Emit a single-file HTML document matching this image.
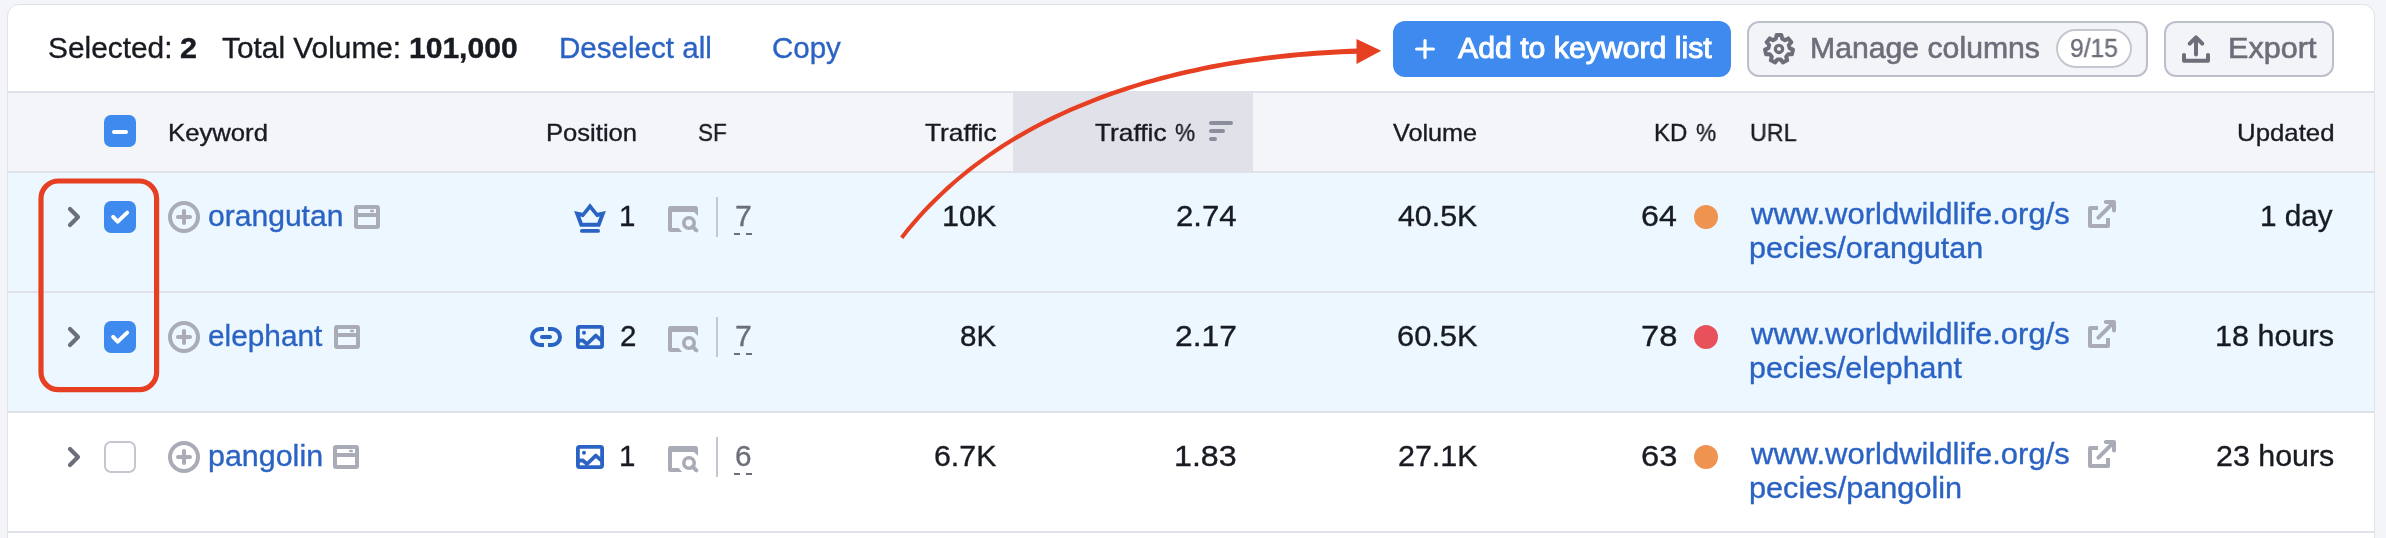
<!DOCTYPE html>
<html><head><meta charset="utf-8"><title>Keywords</title>
<style>
html,body{margin:0;padding:0;}
body{width:2386px;height:538px;overflow:hidden;background:#f4f5f9;position:relative;font-family:"Liberation Sans",sans-serif;}
.abs,.t,.ic{position:absolute;}
.t{white-space:pre;transform-origin:0 0;will-change:transform;-webkit-font-smoothing:antialiased;}
.card{left:7px;top:4px;width:2366px;height:560px;border:1px solid #e0e1e9;border-radius:12px;background:#fff;}
.hline{left:8px;width:2366px;height:2px;background:#e0e1e9;}
.cb{width:32px;height:32px;border-radius:7px;background:#3e8aee;}
.cbu{width:28px;height:28px;border-radius:7px;background:#fff;border:2px solid #c4c7cf;}
.btn{top:21px;height:52px;border:2px solid #bdc0ca;border-radius:12px;background:#f3f4f7;}
.dot{width:24px;height:24px;border-radius:50%;left:1694px;}
.div{left:716px;width:2px;height:40px;background:#c4c7cf;}
</style></head><body>
<div class="abs card"></div>
<!-- header -->
<div class="abs" style="left:8px;top:93px;width:2366px;height:78px;background:#f4f5f9"></div>
<div class="abs hline" style="top:91px"></div>
<div class="abs" style="left:1013px;top:91px;width:240px;height:82px;background:#e0e1e9"></div>
<div class="abs hline" style="top:171px"></div>
<!-- rows -->
<div class="abs" style="left:8px;top:173px;width:2366px;height:118px;background:#ecf7ff"></div>
<div class="abs hline" style="top:291px"></div>
<div class="abs" style="left:8px;top:293px;width:2366px;height:118px;background:#ecf7ff"></div>
<div class="abs hline" style="top:411px"></div>
<div class="abs hline" style="top:531px"></div>
<!-- toolbar buttons -->
<div class="abs" style="left:1393px;top:21px;width:338px;height:56px;border-radius:12px;background:#3e8aee"></div>
<svg class="ic" style="left:1413px;top:37px" width="24" height="24" viewBox="0 0 24 24"><path d="M12 3.6v16.8M3.6 12h16.8" stroke="#fff" stroke-width="3.2" stroke-linecap="round" fill="none"/></svg>
<div class="abs btn" style="left:1747px;width:397px;"></div>
<div class="abs" style="left:2056px;top:29px;width:72px;height:35px;border:2px solid #c4c7cf;border-radius:20px;background:#fff"></div>
<div class="abs btn" style="left:2164px;width:166px;"></div>
<svg class="ic" style="left:1760px;top:30px" width="38" height="38" viewBox="1760 30 38 38" ><path d="M1775.90 38.76 L1776.57 35.11 L1781.43 35.11 L1782.10 38.76 L1784.99 40.16 L1788.26 38.40 L1791.30 42.20 L1788.86 45.00 L1789.57 48.13 L1792.98 49.60 L1791.90 54.34 L1788.19 54.18 L1786.19 56.69 L1787.17 60.27 L1782.79 62.38 L1780.61 59.38 L1777.39 59.38 L1775.21 62.38 L1770.83 60.27 L1771.81 56.69 L1769.81 54.18 L1766.10 54.34 L1765.02 49.60 L1768.43 48.13 L1769.14 45.00 L1766.70 42.20 L1769.74 38.40 L1773.01 40.16Z" fill="none" stroke="#6c6e79" stroke-width="4" stroke-linejoin="round"/><circle cx="1779" cy="48.9" r="3.6" fill="none" stroke="#6c6e79" stroke-width="3.3"/></svg>
<svg class="ic" style="left:2180px;top:32px" width="32" height="34" viewBox="2180 32 32 34" ><path d="M2184 55V60.8H2208V55M2196 38V54.5M2189.7 43.7L2196 37.4L2202.3 43.7" fill="none" stroke="#6c6e79" stroke-width="4" stroke-linecap="round" stroke-linejoin="round"/></svg>
<svg class="ic" style="left:1208px;top:120px" width="26" height="22" viewBox="1208 120 26 22" ><rect x="1209" y="121" width="24" height="4" rx="2" fill="#8a8e9b"/><rect x="1209" y="129" width="16" height="4" rx="2" fill="#8a8e9b"/><rect x="1209" y="137" width="8" height="4" rx="2" fill="#8a8e9b"/></svg>
<div class="abs cb" style="left:104px;top:115px"></div><div class="abs" style="left:112px;top:130px;width:16px;height:4px;border-radius:2px;background:#fff"></div>
<svg class="ic" style="left:64px;top:204px" width="20" height="26" viewBox="64 204 20 26" ><path d="M70 208.9L78 217L70 225.1" fill="none" stroke="#6c6e79" stroke-width="4.2" stroke-linecap="round" stroke-linejoin="round"/></svg>
<div class="abs cb" style="left:104px;top:201px"></div>
<svg class="ic" style="left:104px;top:201px" width="32" height="32" viewBox="104 201 32 32" ><path d="M113.1 216.9L117.7 221.6L127.2 212.6" fill="none" stroke="#fff" stroke-width="3.9" stroke-linecap="round" stroke-linejoin="round"/></svg>
<svg class="ic" style="left:166px;top:199px" width="36" height="36" viewBox="166 199 36 36" ><circle cx="184" cy="217" r="14" fill="none" stroke="#a9abb6" stroke-width="4"/><path d="M178 217h12M184 211v12" stroke="#a9abb6" stroke-width="4" stroke-linecap="round"/></svg>
<svg class="ic" style="left:354px;top:205px" width="26" height="24" viewBox="354 205 26 24" ><path fill-rule="evenodd" fill="#a9abb6" d="M357 205h20a3 3 0 0 1 3 3v18a3 3 0 0 1-3 3h-20a3 3 0 0 1-3-3v-18a3 3 0 0 1 3-3zM358 209v4h18v-4zM358 217v8h18v-8z"/><rect x="370" y="209.7" width="4" height="2.6" rx="1.2" fill="#a9abb6"/></svg>
<svg class="ic" style="left:572px;top:201px" width="36" height="34" viewBox="572 201 36 34" ><path fill-rule="evenodd" fill="#2b63c4" d="M590 203.2L597.5 212.8L605.9 211.1L600 226.7L580 226.7L574.1 211.1L582.5 212.8Z M590 209.2L596.6 217.3L599.6 216.5L597.3 222.8L582.7 222.8L580.4 216.5L583.4 217.3Z"/><rect x="580" y="229" width="20" height="3.8" rx="1.9" fill="#2b63c4"/></svg>
<svg class="ic" style="left:668px;top:206px" width="31" height="27" viewBox="668 206 31 27" ><path fill="#a9abb6" d="M670.5 206h25a2.5 2.5 0 0 1 2.5 2.5V216L694 212H672V228h6.8L682 232H670.5a2.5 2.5 0 0 1-2.5-2.5v-21a2.5 2.5 0 0 1 2.5-2.5z"/><circle cx="689" cy="223" r="5.2" fill="none" stroke="#a9abb6" stroke-width="3.6"/><path d="M692.6 226.6L696.3 230.3" stroke="#a9abb6" stroke-width="4" stroke-linecap="round"/></svg>
<div class="abs div" style="top:197px"></div>
<div class="abs" style="left:734px;top:233px;width:6px;height:2px;background:#6c6e79"></div><div class="abs" style="left:746px;top:233px;width:6px;height:2px;background:#6c6e79"></div>
<div class="abs dot" style="top:205px;background:#ef9351"></div>
<svg class="ic" style="left:2086px;top:198px" width="32" height="32" viewBox="2086 198 32 32" ><path d="M2098 208H2090V226H2108V218" fill="none" stroke="#a9abb6" stroke-width="4" stroke-linejoin="round"/><path d="M2098.4 217.6L2113.5 202.5M2105.8 202H2114V210.5" fill="none" stroke="#a9abb6" stroke-width="4" stroke-linecap="round" stroke-linejoin="round"/></svg>
<svg class="ic" style="left:64px;top:324px" width="20" height="26" viewBox="64 324 20 26" ><path d="M70 328.9L78 337L70 345.1" fill="none" stroke="#6c6e79" stroke-width="4.2" stroke-linecap="round" stroke-linejoin="round"/></svg>
<div class="abs cb" style="left:104px;top:321px"></div>
<svg class="ic" style="left:104px;top:321px" width="32" height="32" viewBox="104 321 32 32" ><path d="M113.1 336.9L117.7 341.6L127.2 332.6" fill="none" stroke="#fff" stroke-width="3.9" stroke-linecap="round" stroke-linejoin="round"/></svg>
<svg class="ic" style="left:166px;top:319px" width="36" height="36" viewBox="166 319 36 36" ><circle cx="184" cy="337" r="14" fill="none" stroke="#a9abb6" stroke-width="4"/><path d="M178 337h12M184 331v12" stroke="#a9abb6" stroke-width="4" stroke-linecap="round"/></svg>
<svg class="ic" style="left:334px;top:325px" width="26" height="24" viewBox="334 325 26 24" ><path fill-rule="evenodd" fill="#a9abb6" d="M337 325h20a3 3 0 0 1 3 3v18a3 3 0 0 1-3 3h-20a3 3 0 0 1-3-3v-18a3 3 0 0 1 3-3zM338 329v4h18v-4zM338 337v8h18v-8z"/><rect x="350" y="329.7" width="4" height="2.6" rx="1.2" fill="#a9abb6"/></svg>
<svg class="ic" style="left:528px;top:325px" width="36" height="24" viewBox="528 325 36 24" ><path d="M544 329h-4a8 8 0 0 0 0 16h4M548 329h4a8 8 0 0 1 0 16h-4" fill="none" stroke="#2b63c4" stroke-width="4"/><path d="M542 337h8" stroke="#2b63c4" stroke-width="4" stroke-linecap="round"/></svg>
<svg class="ic" style="left:576px;top:325px" width="28" height="24" viewBox="576 325 28 24" ><rect x="577.9" y="326.9" width="24.2" height="20.2" rx="1.6" fill="none" stroke="#2b63c4" stroke-width="3.8"/><circle cx="584" cy="332.8" r="2" fill="#2b63c4"/><path d="M577 341 L582.6 340.3 L587 344 L595.8 335.6 L603 341.8" fill="none" stroke="#2b63c4" stroke-width="3.8" stroke-linejoin="round"/></svg>
<svg class="ic" style="left:668px;top:326px" width="31" height="27" viewBox="668 326 31 27" ><path fill="#a9abb6" d="M670.5 326h25a2.5 2.5 0 0 1 2.5 2.5V336L694 332H672V348h6.8L682 352H670.5a2.5 2.5 0 0 1-2.5-2.5v-21a2.5 2.5 0 0 1 2.5-2.5z"/><circle cx="689" cy="343" r="5.2" fill="none" stroke="#a9abb6" stroke-width="3.6"/><path d="M692.6 346.6L696.3 350.3" stroke="#a9abb6" stroke-width="4" stroke-linecap="round"/></svg>
<div class="abs div" style="top:317px"></div>
<div class="abs" style="left:734px;top:353px;width:6px;height:2px;background:#6c6e79"></div><div class="abs" style="left:746px;top:353px;width:6px;height:2px;background:#6c6e79"></div>
<div class="abs dot" style="top:325px;background:#e8515a"></div>
<svg class="ic" style="left:2086px;top:318px" width="32" height="32" viewBox="2086 318 32 32" ><path d="M2098 328H2090V346H2108V338" fill="none" stroke="#a9abb6" stroke-width="4" stroke-linejoin="round"/><path d="M2098.4 337.6L2113.5 322.5M2105.8 322H2114V330.5" fill="none" stroke="#a9abb6" stroke-width="4" stroke-linecap="round" stroke-linejoin="round"/></svg>
<svg class="ic" style="left:64px;top:444px" width="20" height="26" viewBox="64 444 20 26" ><path d="M70 448.9L78 457L70 465.1" fill="none" stroke="#6c6e79" stroke-width="4.2" stroke-linecap="round" stroke-linejoin="round"/></svg>
<div class="abs cbu" style="left:104px;top:441px"></div>
<svg class="ic" style="left:166px;top:439px" width="36" height="36" viewBox="166 439 36 36" ><circle cx="184" cy="457" r="14" fill="none" stroke="#a9abb6" stroke-width="4"/><path d="M178 457h12M184 451v12" stroke="#a9abb6" stroke-width="4" stroke-linecap="round"/></svg>
<svg class="ic" style="left:333px;top:445px" width="26" height="24" viewBox="333 445 26 24" ><path fill-rule="evenodd" fill="#a9abb6" d="M336 445h20a3 3 0 0 1 3 3v18a3 3 0 0 1-3 3h-20a3 3 0 0 1-3-3v-18a3 3 0 0 1 3-3zM337 449v4h18v-4zM337 457v8h18v-8z"/><rect x="349" y="449.7" width="4" height="2.6" rx="1.2" fill="#a9abb6"/></svg>
<svg class="ic" style="left:576px;top:445px" width="28" height="24" viewBox="576 445 28 24" ><rect x="577.9" y="446.9" width="24.2" height="20.2" rx="1.6" fill="none" stroke="#2b63c4" stroke-width="3.8"/><circle cx="584" cy="452.8" r="2" fill="#2b63c4"/><path d="M577 461 L582.6 460.3 L587 464 L595.8 455.6 L603 461.8" fill="none" stroke="#2b63c4" stroke-width="3.8" stroke-linejoin="round"/></svg>
<svg class="ic" style="left:668px;top:446px" width="31" height="27" viewBox="668 446 31 27" ><path fill="#a9abb6" d="M670.5 446h25a2.5 2.5 0 0 1 2.5 2.5V456L694 452H672V468h6.8L682 472H670.5a2.5 2.5 0 0 1-2.5-2.5v-21a2.5 2.5 0 0 1 2.5-2.5z"/><circle cx="689" cy="463" r="5.2" fill="none" stroke="#a9abb6" stroke-width="3.6"/><path d="M692.6 466.6L696.3 470.3" stroke="#a9abb6" stroke-width="4" stroke-linecap="round"/></svg>
<div class="abs div" style="top:437px"></div>
<div class="abs" style="left:734px;top:473px;width:6px;height:2px;background:#6c6e79"></div><div class="abs" style="left:746px;top:473px;width:6px;height:2px;background:#6c6e79"></div>
<div class="abs dot" style="top:445px;background:#ef9351"></div>
<svg class="ic" style="left:2086px;top:438px" width="32" height="32" viewBox="2086 438 32 32" ><path d="M2098 448H2090V466H2108V458" fill="none" stroke="#a9abb6" stroke-width="4" stroke-linejoin="round"/><path d="M2098.4 457.6L2113.5 442.5M2105.8 442H2114V450.5" fill="none" stroke="#a9abb6" stroke-width="4" stroke-linecap="round" stroke-linejoin="round"/></svg>
<span class="t" style="left:48.03px;top:33.00px;font-size:29.5px;line-height:29.5px;color:#191b23;transform:scaleX(1.0122);-webkit-text-stroke:0.35px #191b23;">Selected:</span>
<span class="t" style="left:180.12px;top:33.00px;font-size:29.5px;line-height:29.5px;color:#191b23;transform:scaleX(1.0373);font-weight:700;-webkit-text-stroke:0.4px #191b23;">2</span>
<span class="t" style="left:222.29px;top:33.00px;font-size:29.5px;line-height:29.5px;color:#191b23;transform:scaleX(1.0115);-webkit-text-stroke:0.35px #191b23;">Total Volume:</span>
<span class="t" style="left:408.52px;top:33.00px;font-size:29.5px;line-height:29.5px;color:#191b23;transform:scaleX(1.0183);font-weight:700;-webkit-text-stroke:0.4px #191b23;">101,000</span>
<span class="t" style="left:558.94px;top:33.00px;font-size:29.5px;line-height:29.5px;color:#2b63c4;transform:scaleX(1.0027);-webkit-text-stroke:0.35px #2b63c4;">Deselect all</span>
<span class="t" style="left:772.05px;top:33.00px;font-size:29.5px;line-height:29.5px;color:#2b63c4;transform:scaleX(0.9978);-webkit-text-stroke:0.35px #2b63c4;">Copy</span>
<span class="t" style="left:1458.47px;top:33.00px;font-size:29.5px;line-height:29.5px;color:#fff;transform:scaleX(1.0245);-webkit-text-stroke:1.0px #fff;">Add to keyword list</span>
<span class="t" style="left:1809.95px;top:33.00px;font-size:29.5px;line-height:29.5px;color:#6c6e79;transform:scaleX(1.0237);-webkit-text-stroke:0.6px #6c6e79;">Manage columns</span>
<span class="t" style="left:2070.02px;top:35.50px;font-size:25px;line-height:25px;color:#6c6e79;transform:scaleX(0.9840);-webkit-text-stroke:0.35px #6c6e79;">9/15</span>
<span class="t" style="left:2227.63px;top:33.00px;font-size:29.5px;line-height:29.5px;color:#6c6e79;transform:scaleX(1.0366);-webkit-text-stroke:0.6px #6c6e79;">Export</span>
<span class="t" style="left:167.63px;top:121.00px;font-size:24px;line-height:24px;color:#191b23;transform:scaleX(1.0704);-webkit-text-stroke:0.35px #191b23;">Keyword</span>
<span class="t" style="left:545.73px;top:121.00px;font-size:24px;line-height:24px;color:#191b23;transform:scaleX(1.0663);-webkit-text-stroke:0.35px #191b23;">Position</span>
<span class="t" style="left:697.66px;top:121.00px;font-size:24px;line-height:24px;color:#191b23;transform:scaleX(0.9391);-webkit-text-stroke:0.35px #191b23;">SF</span>
<span class="t" style="left:924.73px;top:121.00px;font-size:24px;line-height:24px;color:#191b23;transform:scaleX(1.0950);-webkit-text-stroke:0.35px #191b23;">Traffic</span>
<span class="t" style="left:1094.73px;top:121.00px;font-size:24px;line-height:24px;color:#191b23;transform:scaleX(1.0950);-webkit-text-stroke:0.35px #191b23;">Traffic</span>
<span class="t" style="left:1175.30px;top:121.00px;font-size:24px;line-height:24px;color:#191b23;transform:scaleX(0.9400);-webkit-text-stroke:0.35px #191b23;">%</span>
<span class="t" style="left:1393.10px;top:121.00px;font-size:24px;line-height:24px;color:#191b23;transform:scaleX(1.0511);-webkit-text-stroke:0.35px #191b23;">Volume</span>
<span class="t" style="left:1653.75px;top:121.00px;font-size:24px;line-height:24px;color:#191b23;transform:scaleX(1.0000);-webkit-text-stroke:0.35px #191b23;">KD</span>
<span class="t" style="left:1695.59px;top:121.00px;font-size:24px;line-height:24px;color:#191b23;transform:scaleX(0.9450);-webkit-text-stroke:0.35px #191b23;">%</span>
<span class="t" style="left:1749.80px;top:121.00px;font-size:24px;line-height:24px;color:#191b23;transform:scaleX(0.9705);-webkit-text-stroke:0.35px #191b23;">URL</span>
<span class="t" style="left:2236.52px;top:121.00px;font-size:24px;line-height:24px;color:#191b23;transform:scaleX(1.0754);-webkit-text-stroke:0.35px #191b23;">Updated</span>
<span class="t" style="left:207.98px;top:200.50px;font-size:29.5px;line-height:29.5px;color:#2b63c4;transform:scaleX(1.0192);-webkit-text-stroke:0.35px #2b63c4;">orangutan</span>
<span class="t" style="left:618.97px;top:200.50px;font-size:29.5px;line-height:29.5px;color:#191b23;transform:scaleX(1.0000);-webkit-text-stroke:0.35px #191b23;">1</span>
<span class="t" style="left:734.82px;top:200.50px;font-size:29.5px;line-height:29.5px;color:#6c6e79;transform:scaleX(1.0255);-webkit-text-stroke:0.35px #6c6e79;">7</span>
<span class="t" style="left:941.52px;top:200.50px;font-size:29.5px;line-height:29.5px;color:#191b23;transform:scaleX(1.0376);-webkit-text-stroke:0.35px #191b23;">10K</span>
<span class="t" style="left:1175.78px;top:200.50px;font-size:29.5px;line-height:29.5px;color:#191b23;transform:scaleX(1.0559);-webkit-text-stroke:0.35px #191b23;">2.74</span>
<span class="t" style="left:1397.89px;top:200.50px;font-size:29.5px;line-height:29.5px;color:#191b23;transform:scaleX(1.0275);-webkit-text-stroke:0.35px #191b23;">40.5K</span>
<span class="t" style="left:1641.24px;top:200.50px;font-size:29.5px;line-height:29.5px;color:#191b23;transform:scaleX(1.0903);-webkit-text-stroke:0.35px #191b23;">64</span>
<span class="t" style="left:1750.76px;top:199.00px;font-size:29.5px;line-height:29.5px;color:#2b63c4;transform:scaleX(1.0510);-webkit-text-stroke:0.35px #2b63c4;">www.worldwildlife.org/s</span>
<span class="t" style="left:1748.69px;top:233.00px;font-size:29.5px;line-height:29.5px;color:#2b63c4;transform:scaleX(1.0352);-webkit-text-stroke:0.35px #2b63c4;">pecies/orangutan</span>
<span class="t" style="left:2260.38px;top:200.50px;font-size:29.5px;line-height:29.5px;color:#191b23;transform:scaleX(1.0078);-webkit-text-stroke:0.35px #191b23;">1 day</span>
<span class="t" style="left:207.79px;top:320.50px;font-size:29.5px;line-height:29.5px;color:#2b63c4;transform:scaleX(1.0102);-webkit-text-stroke:0.35px #2b63c4;">elephant</span>
<span class="t" style="left:619.56px;top:320.50px;font-size:29.5px;line-height:29.5px;color:#191b23;transform:scaleX(0.9891);-webkit-text-stroke:0.35px #191b23;">2</span>
<span class="t" style="left:734.82px;top:320.50px;font-size:29.5px;line-height:29.5px;color:#6c6e79;transform:scaleX(1.0255);-webkit-text-stroke:0.35px #6c6e79;">7</span>
<span class="t" style="left:959.90px;top:320.50px;font-size:29.5px;line-height:29.5px;color:#191b23;transform:scaleX(1.0029);-webkit-text-stroke:0.35px #191b23;">8K</span>
<span class="t" style="left:1175.35px;top:320.50px;font-size:29.5px;line-height:29.5px;color:#191b23;transform:scaleX(1.0776);-webkit-text-stroke:0.35px #191b23;">2.17</span>
<span class="t" style="left:1396.59px;top:320.50px;font-size:29.5px;line-height:29.5px;color:#191b23;transform:scaleX(1.0442);-webkit-text-stroke:0.35px #191b23;">60.5K</span>
<span class="t" style="left:1641.21px;top:320.50px;font-size:29.5px;line-height:29.5px;color:#191b23;transform:scaleX(1.1082);-webkit-text-stroke:0.35px #191b23;">78</span>
<span class="t" style="left:1750.76px;top:319.00px;font-size:29.5px;line-height:29.5px;color:#2b63c4;transform:scaleX(1.0510);-webkit-text-stroke:0.35px #2b63c4;">www.worldwildlife.org/s</span>
<span class="t" style="left:1748.70px;top:353.00px;font-size:29.5px;line-height:29.5px;color:#2b63c4;transform:scaleX(1.0300);-webkit-text-stroke:0.35px #2b63c4;">pecies/elephant</span>
<span class="t" style="left:2214.93px;top:320.50px;font-size:29.5px;line-height:29.5px;color:#191b23;transform:scaleX(1.0375);-webkit-text-stroke:0.35px #191b23;">18 hours</span>
<span class="t" style="left:207.59px;top:440.50px;font-size:29.5px;line-height:29.5px;color:#2b63c4;transform:scaleX(1.0315);-webkit-text-stroke:0.35px #2b63c4;">pangolin</span>
<span class="t" style="left:618.97px;top:440.50px;font-size:29.5px;line-height:29.5px;color:#191b23;transform:scaleX(1.0000);-webkit-text-stroke:0.35px #191b23;">1</span>
<span class="t" style="left:734.84px;top:440.50px;font-size:29.5px;line-height:29.5px;color:#6c6e79;transform:scaleX(1.0071);-webkit-text-stroke:0.35px #6c6e79;">6</span>
<span class="t" style="left:933.82px;top:440.50px;font-size:29.5px;line-height:29.5px;color:#191b23;transform:scaleX(1.0278);-webkit-text-stroke:0.35px #191b23;">6.7K</span>
<span class="t" style="left:1174.32px;top:440.50px;font-size:29.5px;line-height:29.5px;color:#191b23;transform:scaleX(1.0912);-webkit-text-stroke:0.35px #191b23;">1.83</span>
<span class="t" style="left:1397.51px;top:440.50px;font-size:29.5px;line-height:29.5px;color:#191b23;transform:scaleX(1.0323);-webkit-text-stroke:0.35px #191b23;">27.1K</span>
<span class="t" style="left:1641.21px;top:440.50px;font-size:29.5px;line-height:29.5px;color:#191b23;transform:scaleX(1.1082);-webkit-text-stroke:0.35px #191b23;">63</span>
<span class="t" style="left:1750.76px;top:439.00px;font-size:29.5px;line-height:29.5px;color:#2b63c4;transform:scaleX(1.0510);-webkit-text-stroke:0.35px #2b63c4;">www.worldwildlife.org/s</span>
<span class="t" style="left:1748.68px;top:473.00px;font-size:29.5px;line-height:29.5px;color:#2b63c4;transform:scaleX(1.0397);-webkit-text-stroke:0.35px #2b63c4;">pecies/pangolin</span>
<span class="t" style="left:2215.71px;top:440.50px;font-size:29.5px;line-height:29.5px;color:#191b23;transform:scaleX(1.0306);-webkit-text-stroke:0.35px #191b23;">23 hours</span>
<svg class="ic" style="left:30px;top:170px" width="140" height="232" viewBox="30 170 140 232"><rect x="41" y="181" width="115.6" height="208.7" rx="17.5" fill="none" stroke="#e63f22" stroke-width="5.2"/></svg>
<svg class="ic" style="left:880px;top:20px" width="520" height="240" viewBox="880 20 520 240"><path d="M903.3 239.0L908.7 232.1L914.2 225.5L919.9 219.0L925.7 212.6L931.6 206.4L937.6 200.4L943.8 194.5L950.1 188.7L956.4 183.1L963.0 177.6L969.6 172.3L976.3 167.1L983.1 162.0L990.1 157.1L997.1 152.3L1004.2 147.6L1011.4 143.1L1018.7 138.7L1026.1 134.5L1033.6 130.3L1041.1 126.3L1048.8 122.5L1056.5 118.7L1064.3 115.1L1072.1 111.5L1080.0 108.2L1088.0 104.9L1096.0 101.7L1104.1 98.7L1112.2 95.7L1120.4 92.9L1128.7 90.2L1137.0 87.6L1145.3 85.1L1153.7 82.7L1162.1 80.5L1170.5 78.3L1178.9 76.2L1187.4 74.2L1195.9 72.4L1204.5 70.6L1213.0 68.9L1221.6 67.3L1230.2 65.8L1238.7 64.4L1247.3 63.1L1255.9 61.9L1264.5 60.8L1273.1 59.7L1281.7 58.8L1290.2 57.9L1298.8 57.1L1307.3 56.4L1315.9 55.8L1324.4 55.2L1332.8 54.7L1341.3 54.3L1349.7 54.0L1358.1 53.7L1357.9 48.6L1349.5 48.8L1341.0 49.2L1332.6 49.7L1324.0 50.2L1315.5 50.8L1306.9 51.4L1298.4 52.2L1289.8 53.0L1281.1 53.9L1272.5 54.9L1263.9 56.0L1255.3 57.2L1246.6 58.4L1238.0 59.8L1229.4 61.2L1220.8 62.7L1212.1 64.3L1203.6 66.0L1195.0 67.9L1186.4 69.8L1177.9 71.8L1169.4 73.9L1160.9 76.1L1152.4 78.4L1144.0 80.8L1135.7 83.4L1127.3 86.0L1119.0 88.7L1110.8 91.6L1102.6 94.6L1094.4 97.7L1086.4 100.9L1078.3 104.2L1070.4 107.6L1062.5 111.2L1054.6 114.8L1046.9 118.6L1039.2 122.6L1031.6 126.6L1024.0 130.8L1016.6 135.1L1009.2 139.6L1001.9 144.1L994.8 148.8L987.7 153.7L980.7 158.7L973.8 163.8L967.0 169.0L960.3 174.4L953.8 180.0L947.3 185.6L941.0 191.5L934.7 197.4L928.6 203.6L922.7 209.8L916.8 216.3L911.1 222.8L905.5 229.6L900.1 236.4Z" fill="#e63f22"/><path d="M1356.5 39L1381.2 50.7L1356.5 64Z" fill="#e63f22"/></svg>
</body></html>
